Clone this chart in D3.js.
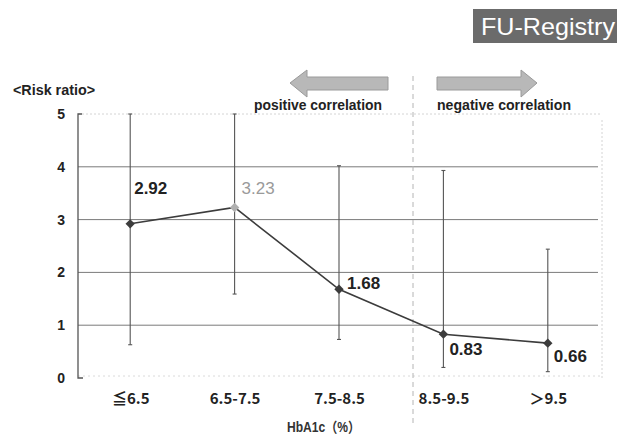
<!DOCTYPE html>
<html>
<head>
<meta charset="utf-8">
<script src="https://cdn.jsdelivr.net/npm/d3@7"></script>
<style>
  html, body { margin: 0; padding: 0; background: #fff; }
  svg { display: block; }
  text { font-family: "Liberation Sans", Arial, "Noto Sans CJK JP", sans-serif; }
</style>
</head>
<body>
<svg id="chart" width="617" height="439"></svg>
<script>
// ---- data ----
const categories = ["≦6.5", "6.5-7.5", "7.5-8.5", "8.5-9.5", "＞9.5"];
const riskRatio  = [2.92, 3.23, 1.68, 0.83, 0.66];
const ciLower    = [0.63, 1.59, 0.73, 0.20, 0.12];
const ciUpper    = [5.00, 5.00, 4.02, 3.93, 2.44];
const yTicks     = [0, 1, 2, 3, 4, 5];
const valueLabels = ["2.92", "3.23", "1.68", "0.83", "0.66"];

(function () {
// ---- layout ----
const svg = d3.select("#chart");
const pL = 78, pR = 600, pT = 114, pB = 378;
const x = d3.scalePoint().domain(categories).range([pL, pR]).padding(0.5);
const y = d3.scaleLinear().domain([0, 5]).range([pB, pT]);

const rows = categories.map((c, i) => ({c, v: riskRatio[i], lo: ciLower[i], hi: ciUpper[i], lab: valueLabels[i], i}));

// faint dotted frame (top, bottom, right)
svg.append("line").attr("x1", pL).attr("x2", pR).attr("y1", y(5)).attr("y2", y(5))
  .attr("stroke", "#d4d4d4").attr("stroke-dasharray", "2,2");
svg.append("line").attr("x1", pL).attr("x2", pR).attr("y1", y(0) - 2).attr("y2", y(0) - 2)
  .attr("stroke", "#dadada").attr("stroke-dasharray", "2,3");
svg.append("line").attr("x1", pR + 2).attr("x2", pR + 2).attr("y1", y(5) + 6).attr("y2", y(0))
  .attr("stroke", "#d4d4d4").attr("stroke-dasharray", "2,2");

// grid lines
svg.append("g").selectAll("line").data(yTicks.filter(t => t > 0 && t < 5)).join("line")
  .attr("x1", pL).attr("x2", pR - 2)
  .attr("y1", d => y(d)).attr("y2", d => y(d))
  .attr("stroke", "#7a7a7a").attr("stroke-width", 1);

// y axis
const yAxis = d3.axisLeft(y).tickValues(yTicks).tickSize(0).tickPadding(13).tickFormat(d3.format("d"));
const ga = svg.append("g").attr("transform", `translate(${pL},0)`).call(yAxis);
ga.select(".domain").remove();
ga.selectAll("text").style("font-size", "14px").style("font-weight", "bold").attr("fill", "#222");
svg.append("path")
  .attr("d", `M${pL + 4},${y(5)}H${pL}V${y(0)}H${pL + 5}`)
  .attr("fill", "none").attr("stroke", "#555").attr("stroke-width", 1.3);

// x axis labels
const gx = svg.append("g").attr("transform", `translate(0,${pB})`)
  .call(d3.axisBottom(x).tickSize(0).tickPadding(15));
gx.select(".domain").remove();
gx.selectAll("text").style("font-size", "15px").style("font-weight", "bold").attr("fill", "#222")
  .style("font-family", "'Noto Sans CJK JP', 'Liberation Sans', sans-serif")
  .attr("dy", "0.71em");

// dashed separator
svg.append("line").attr("x1", 413).attr("x2", 413).attr("y1", 76).attr("y2", 426)
  .attr("stroke", "#b4b4b4").attr("stroke-width", 1).attr("stroke-dasharray", "5,4");

// error bars
const eb = svg.append("g").attr("stroke", "#555").attr("stroke-width", 1.1);
eb.selectAll("line.v").data(rows).join("line").attr("class", "v")
  .attr("x1", d => x(d.c)).attr("x2", d => x(d.c))
  .attr("y1", d => y(d.hi)).attr("y2", d => y(d.lo));
eb.selectAll("line.t").data(rows).join("line").attr("class", "t")
  .attr("x1", d => x(d.c) - 2).attr("x2", d => x(d.c) + 2)
  .attr("y1", d => y(d.hi)).attr("y2", d => y(d.hi));
eb.selectAll("line.b").data(rows).join("line").attr("class", "b")
  .attr("x1", d => x(d.c) - 2).attr("x2", d => x(d.c) + 2)
  .attr("y1", d => y(d.lo)).attr("y2", d => y(d.lo));

// line
svg.append("path").datum(rows)
  .attr("d", d3.line().x(d => x(d.c)).y(d => y(d.v)))
  .attr("fill", "none").attr("stroke", "#3c3c3c").attr("stroke-width", 1.6);

// markers
svg.append("g").selectAll("path").data(rows).join("path")
  .attr("d", d3.symbol().type(d3.symbolDiamond2).size(56))
  .attr("transform", d => `translate(${x(d.c)},${y(d.v)})`)
  .attr("fill", d => d.i === 1 ? "#b0b0b0" : "#3c3c3c");

// value labels
const offs = [[4, -30], [7, -13], [8, 0], [6, 21], [6, 19]];
svg.append("g").selectAll("text").data(rows).join("text")
  .attr("x", d => x(d.c) + offs[d.i][0])
  .attr("y", d => y(d.v) + offs[d.i][1])
  .attr("font-size", 17).attr("font-weight", d => d.i === 1 ? "normal" : "bold")
  .attr("fill", d => d.i === 1 ? "#9a9a9a" : "#222")
  .text(d => d.lab);

// axis titles
svg.append("text").attr("x", 13).attr("y", 95).attr("font-size", 14).attr("font-weight", "bold")
  .attr("fill", "#222").attr("textLength", 82).attr("lengthAdjust", "spacingAndGlyphs")
  .text("<Risk ratio>");
svg.append("text").attr("x", 287).attr("y", 432).attr("font-size", 14).attr("font-weight", "bold")
  .attr("fill", "#333").attr("textLength", 73).attr("lengthAdjust", "spacingAndGlyphs")
  .text("HbA1c（%）");

// arrows
svg.append("path")
  .attr("d", "M290,83 L307,70 L307,77 L388,77 L388,90 L307,90 L307,97 Z")
  .attr("fill", "#b8b8b8").attr("stroke", "#9a9a9a").attr("stroke-width", 1);
svg.append("path")
  .attr("d", "M537,83 L521,70 L521,77 L437,77 L437,90 L521,90 L521,97 Z")
  .attr("fill", "#b8b8b8").attr("stroke", "#9a9a9a").attr("stroke-width", 1);
svg.append("text").attr("x", 254).attr("y", 110).attr("font-size", 15).attr("font-weight", "bold")
  .attr("fill", "#222").attr("textLength", 128).attr("lengthAdjust", "spacingAndGlyphs")
  .text("positive correlation");
svg.append("text").attr("x", 437).attr("y", 110).attr("font-size", 15).attr("font-weight", "bold")
  .attr("fill", "#222").attr("textLength", 134).attr("lengthAdjust", "spacingAndGlyphs")
  .text("negative correlation");

// badge
svg.append("rect").attr("x", 473).attr("y", 9).attr("width", 150).attr("height", 34).attr("fill", "#6b6b6b");
svg.append("text").attr("x", 481).attr("y", 35).attr("font-size", 24).attr("fill", "#fff")
  .attr("textLength", 134).attr("lengthAdjust", "spacingAndGlyphs")
  .text("FU-Registry");
})();
</script>
</body>
</html>
